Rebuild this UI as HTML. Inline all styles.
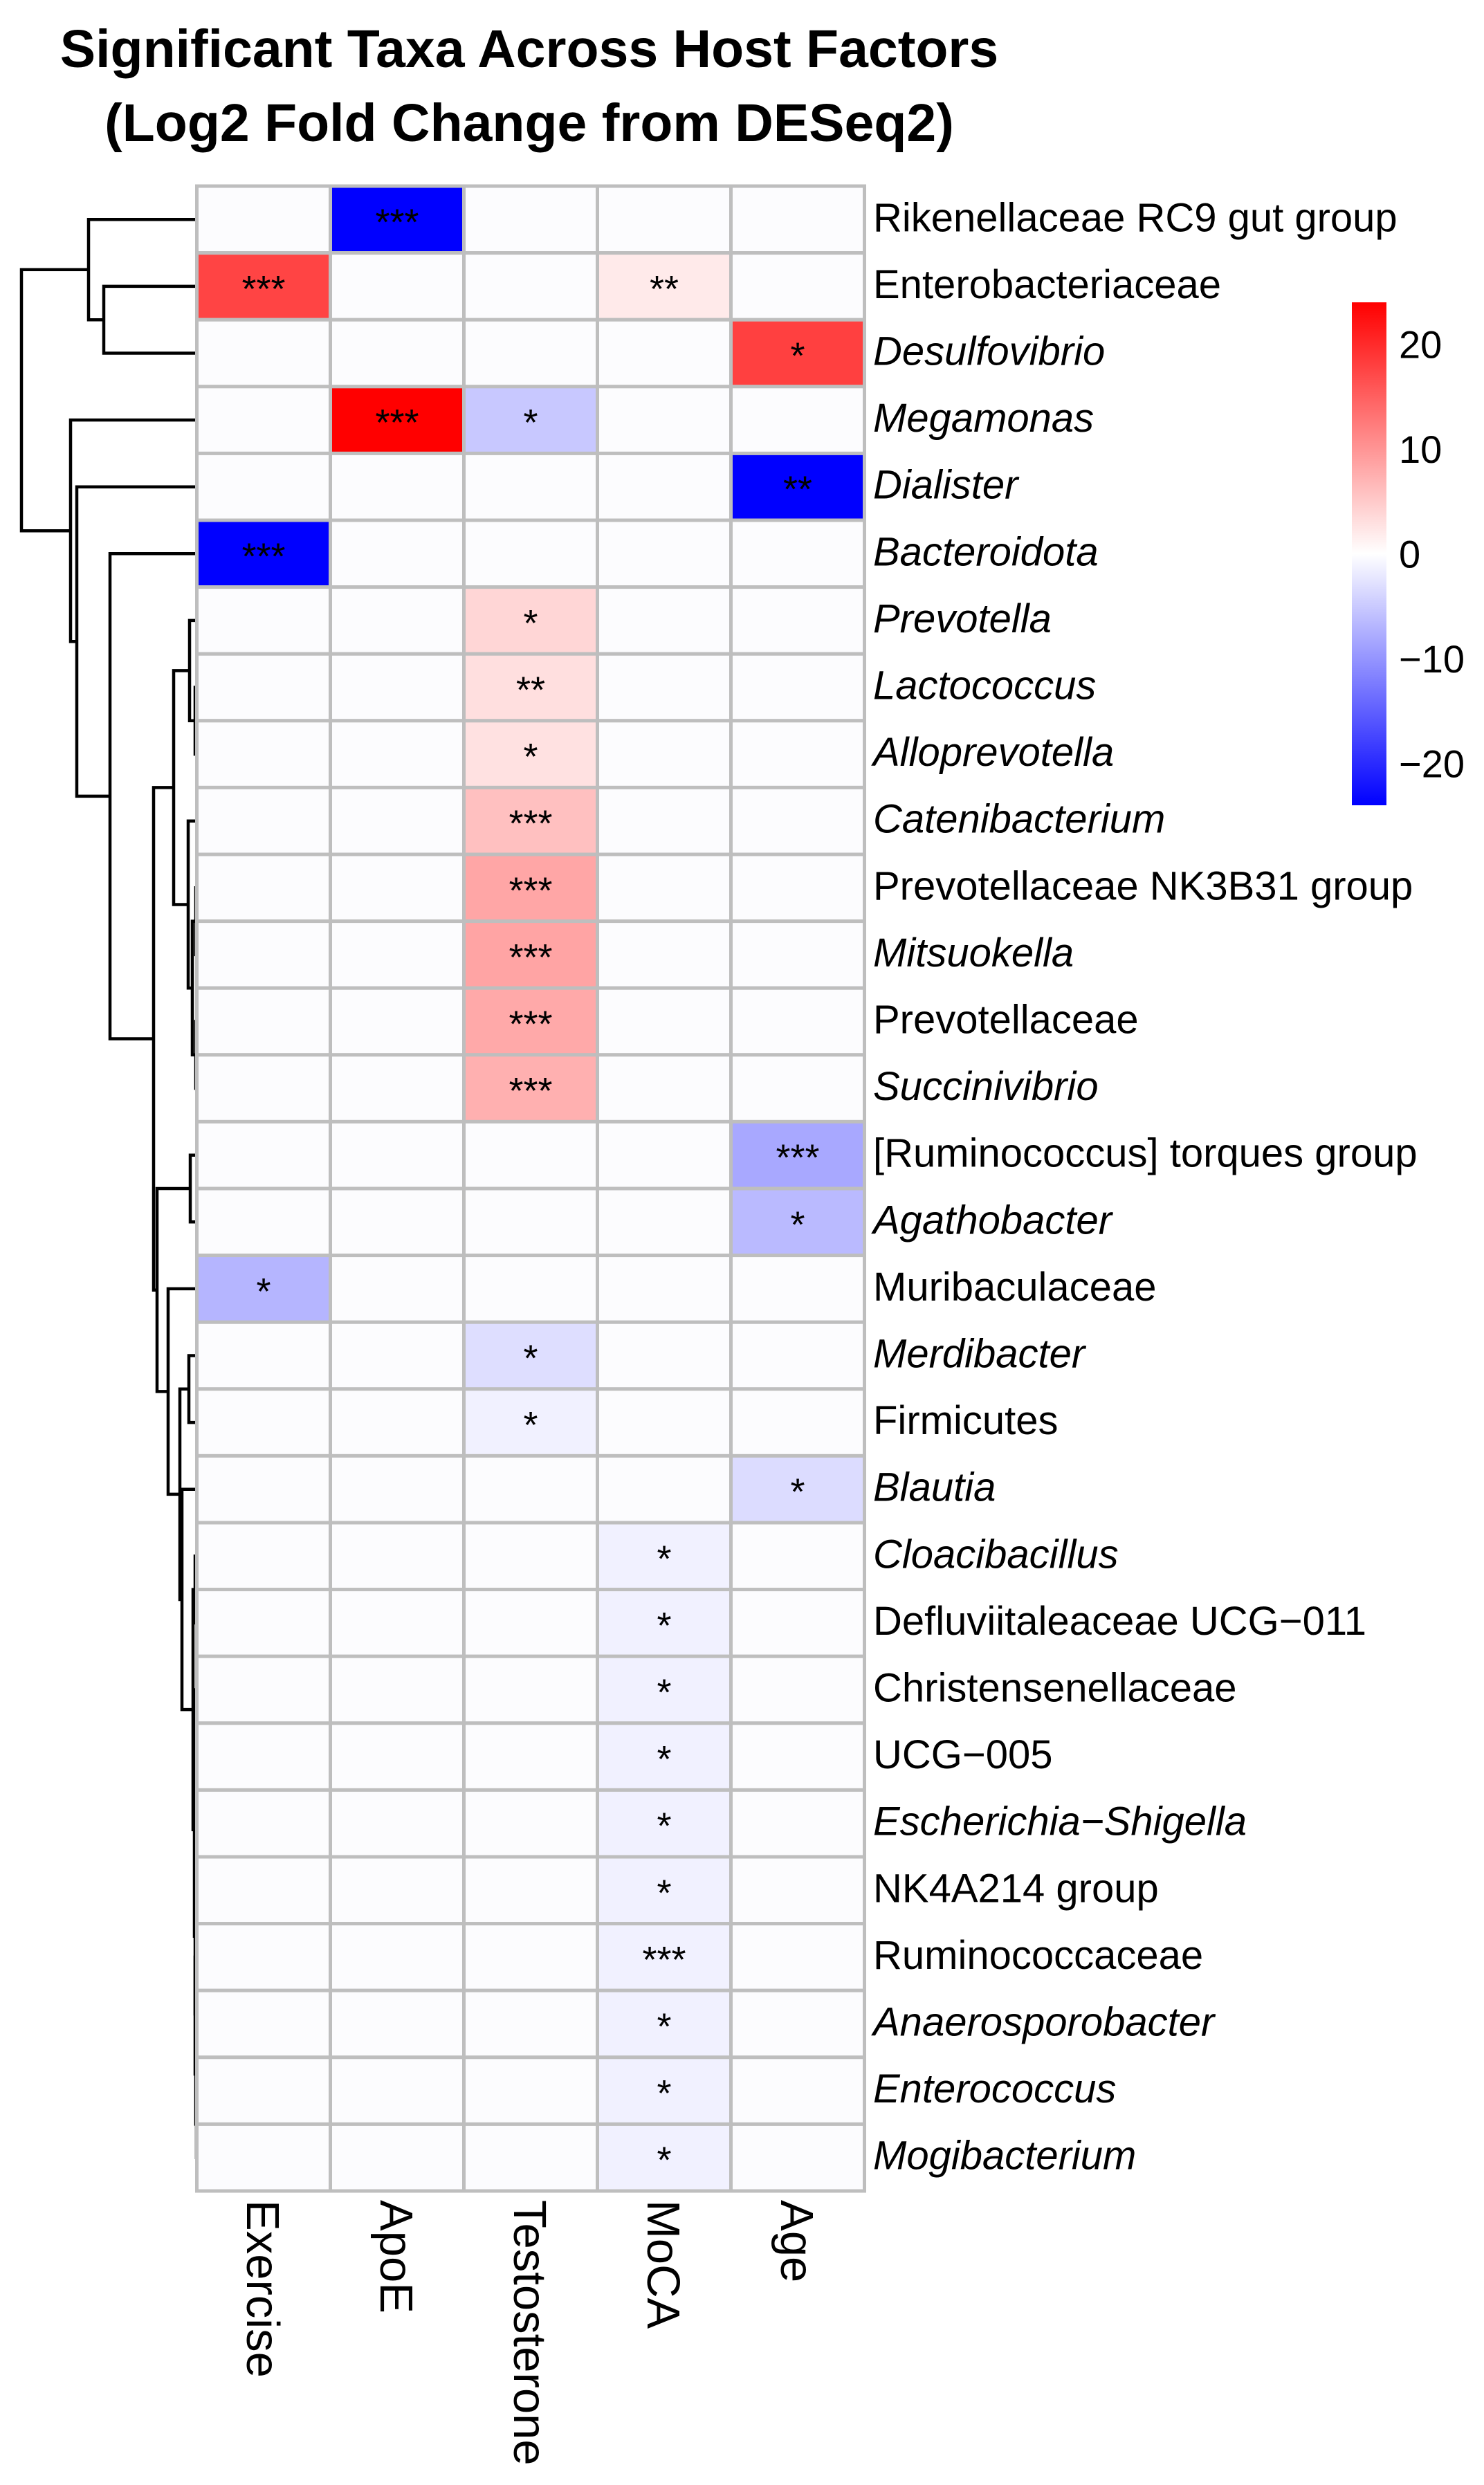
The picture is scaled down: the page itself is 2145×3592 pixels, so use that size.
<!DOCTYPE html>
<html><head><meta charset="utf-8"><style>
html,body{margin:0;padding:0;background:#fff;}
svg{display:block;}
text{font-family:"Liberation Sans",Arial,sans-serif;}
</style></head><body>
<svg id="chart" width="2145" height="3592" viewBox="0 0 2145 3592" xmlns="http://www.w3.org/2000/svg">
<rect width="2145" height="3592" fill="#ffffff"/>
<text x="765" y="97" text-anchor="middle" font-size="77" font-weight="bold">Significant Taxa Across Host Factors</text>
<text x="765" y="204" text-anchor="middle" font-size="77" font-weight="bold">(Log2 Fold Change from DESeq2)</text>
<g id="dendro"></g>
<g id="cells"></g>
<g id="rowlabels"></g>
<g id="collabels"></g>
<g id="legend"></g>
</svg>
<script>
const columns = ["Exercise","ApoE","Testosterone","MoCA","Age"];
const taxa = ["Rikenellaceae RC9 gut group","Enterobacteriaceae","Desulfovibrio","Megamonas","Dialister","Bacteroidota","Prevotella","Lactococcus","Alloprevotella","Catenibacterium","Prevotellaceae NK3B31 group","Mitsuokella","Prevotellaceae","Succinivibrio","[Ruminococcus] torques group","Agathobacter","Muribaculaceae","Merdibacter","Firmicutes","Blautia","Cloacibacillus","Defluviitaleaceae UCG\u2212011","Christensenellaceae","UCG\u2212005","Escherichia\u2212Shigella","NK4A214 group","Ruminococcaceae","Anaerosporobacter","Enterococcus","Mogibacterium"];
const italicTaxa = [false,false,true,true,true,true,true,true,true,true,false,true,false,true,false,true,false,true,false,true,true,false,false,false,true,false,false,true,true,true];
// log2 fold change values [Exercise, ApoE, Testosterone, MoCA, Age]
const exerciseValues =    [0,17.6,0,0,0,-24,0,0,0,0,0,0,0,0,0,0,-7.0,0,0,0,0,0,0,0,0,0,0,0,0,0];
const apoeValues =        [-24,0,0,24,0,0,0,0,0,0,0,0,0,0,0,0,0,0,0,0,0,0,0,0,0,0,0,0,0,0];
const testosteroneValues =[0,0,0,-5.2,0,0,3.9,3.0,2.8,5.9,8.4,8.6,8.1,7.4,0,0,0,-3.1,-1.3,0,0,0,0,0,0,0,0,0,0,0];
const mocaValues =        [0,2.0,0,0,0,0,0,0,0,0,0,0,0,0,0,0,0,0,0,0,-1.3,-1.3,-1.3,-1.3,-1.3,-1.3,-1.3,-1.3,-1.3,-1.3];
const ageValues =         [0,0,18.0,0,-24,0,0,0,0,0,0,0,0,0,-8.2,-6.5,0,0,0,-3.3,0,0,0,0,0,0,0,0,0,0];
const exerciseStars =    ["","***","","","","***","","","","","","","","","","","*","","","","","","","","","","","","",""];
const apoeStars =        ["***","","","***","","","","","","","","","","","","","","","","","","","","","","","","","",""];
const testosteroneStars =["","","","*","","","*","**","*","***","***","***","***","***","","","","*","*","","","","","","","","","","",""];
const mocaStars =        ["","**","","","","","","","","","","","","","","","","","","","*","*","*","*","*","*","***","*","*","*"];
const ageStars =         ["","","*","","**","","","","","","","","","","***","*","","","","*","","","","","","","","","",""];
const legendTicks = [20,10,0,-10,-20];
const legendLabels = ["20","10","0","\u221210","\u221220"];
const legendMin = -24, legendMax = 24;
// dendrogram: merge heights (left=small)
const dendroTree = {h:31,c:[
  {h:128,c:[0,{h:150,c:[1,2]}]},
  {h:102,c:[3,{h:111,c:[4,{h:159,c:[5,{h:222,c:[
    {h:251,c:[{h:274,c:[6,{h:282,c:[7,8]}]},{h:272,c:[9,{h:278,c:[{h:283,c:[10,11]},{h:283,c:[12,13]}]}]}]},
    {h:227,c:[{h:275,c:[14,15]},{h:243,c:[16,{h:260,c:[{h:273,c:[17,18]},{h:263,c:[19,
      {h:279,c:[{h:282,c:[20,21]},{h:281,c:[{h:283,c:[22,23]},{h:282,c:[{h:283,c:[24,25]},{h:282,c:[26,{h:283,c:[27,{h:284,c:[28,29]}]}]}]}]}]}
    ]}]}]}]}
  ]}]}]}]}
]};

const NS="http://www.w3.org/2000/svg";
const X0=284.5, Y0=269, CW=193, RH=96.6;
function xCol(i){return X0+i*CW;}
function yRow(i){return Y0+i*RH;}
function mk(tag,attrs,parent){const e=document.createElementNS(NS,tag);for(const k in attrs)e.setAttribute(k,attrs[k]);parent.appendChild(e);return e;}
function colorFor(v){
  if(v===0) return "#fcfcfe";
  const t=Math.min(1,Math.abs(v)/legendMax);
  const c=Math.round(255*(1-t));
  return v>0?`rgb(255,${c},${c})`:`rgb(${c},${c},255)`;
}
const valueCols=[exerciseValues,apoeValues,testosteroneValues,mocaValues,ageValues];
const starCols=[exerciseStars,apoeStars,testosteroneStars,mocaStars,ageStars];
const cells=document.getElementById('cells');
for(let r=0;r<taxa.length;r++){
  for(let c=0;c<columns.length;c++){
    const rect=mk('rect',{x:xCol(c),y:yRow(r),width:CW,height:RH,fill:colorFor(valueCols[c][r]),stroke:"#bebebe","stroke-width":5},cells);
    
    
    const s=starCols[c][r];
    if(s){
      const t=mk('text',{x:xCol(c)+CW/2,y:yRow(r)+RH/2+22,"text-anchor":"middle","font-size":54},cells);
      t.textContent=s;
      
      
    }
  }
}
const rl=document.getElementById('rowlabels');
for(let r=0;r<taxa.length;r++){
  const t=mk('text',{x:1262,y:yRow(r)+RH/2+17,"font-size":58},rl);
  if(italicTaxa[r]) t.setAttribute('font-style','italic');
  t.textContent=taxa[r];
  
  
}
const cl=document.getElementById('collabels');
for(let c=0;c<columns.length;c++){
  const x=xCol(c)+CW/2-24, y=3180;
  const t=mk('text',{x:0,y:0,"font-size":67,transform:`translate(${x},${y}) rotate(90)`},cl);
  t.textContent=columns[c];
  
  
}
// dendrogram
const dg=document.getElementById('dendro');
function drawNode(n){
  if(typeof n==='number') return {y:yRow(n)+RH/2,x:X0};
  const a=drawNode(n.c[0]), b=drawNode(n.c[1]);
  const p=mk('path',{d:`M${a.x},${a.y}H${n.h}V${b.y}H${b.x}`,fill:"none",stroke:"#000","stroke-width":4.5},dg);
  
  
  return {y:(a.y+b.y)/2,x:n.h};
}
drawNode(dendroTree);
// legend
const lg=document.getElementById('legend');
const LT=437, LB=1164, LX=1954, LW=50;
function yLeg(v){return LB-(v-legendMin)/(legendMax-legendMin)*(LB-LT);}
const defs=mk('defs',{},lg);
const grad=mk('linearGradient',{id:"lgrad",x1:0,y1:1,x2:0,y2:0},defs);
mk('stop',{offset:"0","stop-color":"#0000ff"},grad);
mk('stop',{offset:"0.5","stop-color":"#ffffff"},grad);
mk('stop',{offset:"1","stop-color":"#ff0000"},grad);
const bar=mk('rect',{x:LX,y:LT,width:LW,height:LB-LT,fill:"url(#lgrad)"},lg);


for(let i=0;i<legendTicks.length;i++){
  const t=mk('text',{x:2022,y:yLeg(legendTicks[i])+20,"font-size":56},lg);
  t.textContent=legendLabels[i];
  
  
}
</script>
</body></html>
